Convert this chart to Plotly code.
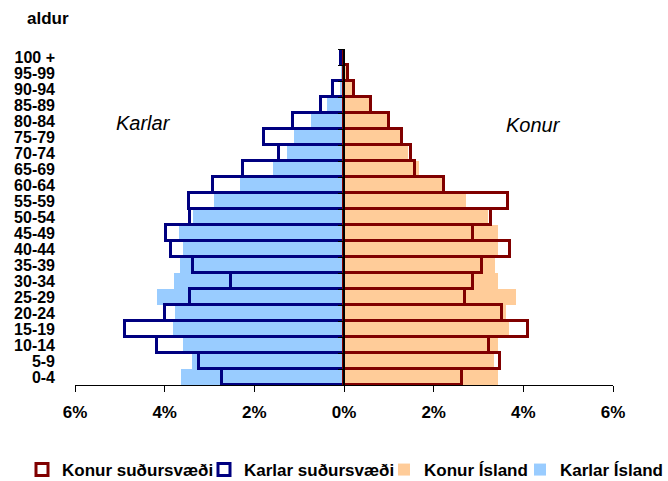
import plotly.graph_objects as go

# ---- data (youngest to oldest) ----
ages = ["0-4", "5-9", "10-14", "15-19", "20-24", "25-29", "30-34", "35-39",
        "40-44", "45-49", "50-54", "55-59", "60-64", "65-69", "70-74",
        "75-79", "80-84", "85-89", "90-94", "95-99", "100 +"]

karlar_sudur = [2.72, 3.24, 4.17, 4.88, 4.00, 3.43, 2.53, 3.36, 3.85, 3.97, 3.43,
                3.46, 2.92, 2.25, 1.45, 1.79, 1.13, 0.52, 0.24, 0.00, 0.06]
karlar_island = [3.63, 3.38, 3.59, 3.82, 3.78, 4.16, 3.79, 3.65, 3.59, 3.68, 3.37,
                 2.89, 2.31, 1.58, 1.28, 1.12, 0.73, 0.39, 0.10, 0.06, 0.03]
konur_sudur = [2.63, 3.49, 3.23, 4.10, 3.53, 2.69, 2.87, 3.08, 3.71, 2.87, 3.27,
               3.65, 2.24, 1.58, 1.49, 1.29, 1.01, 0.60, 0.22, 0.08, 0.00]
konur_island = [3.43, 3.34, 3.43, 3.69, 3.62, 3.83, 3.43, 3.36, 3.43, 3.43, 3.22,
                2.72, 2.20, 1.68, 1.42, 1.27, 0.97, 0.56, 0.19, 0.04, 0.01]

x_ticks = [-6, -4, -2, 0, 2, 4, 6]
x_ticktext = ["6%", "4%", "2%", "0%", "2%", "4%", "6%"]

FONT = "Liberation Sans, Arial, sans-serif"
C_KARLAR_IS = "#99CCFF"
C_KONUR_IS = "#FFCC99"
C_KARLAR_SU = "#000080"
C_KONUR_SU = "#800000"

ypos = list(range(len(ages)))

fig = go.Figure()

fig.add_trace(go.Bar(
    name="Karlar Ísland", y=ypos, x=[-v for v in karlar_island], orientation="h",
    marker=dict(color=C_KARLAR_IS, line=dict(width=0)), width=1,
    legend="legend4", hoverinfo="skip"))
fig.add_trace(go.Bar(
    name="Konur Ísland", y=ypos, x=konur_island, orientation="h",
    marker=dict(color=C_KONUR_IS, line=dict(width=0)), width=1,
    legend="legend3", hoverinfo="skip"))
fig.add_trace(go.Bar(
    name="Karlar suðursvæði", y=ypos, x=[-v for v in karlar_sudur], orientation="h",
    marker=dict(color="rgba(0,0,0,0)", line=dict(color=C_KARLAR_SU, width=3)), width=1,
    legend="legend2", hoverinfo="skip"))
fig.add_trace(go.Bar(
    name="Konur suðursvæði", y=ypos, x=konur_sudur, orientation="h",
    marker=dict(color="rgba(0,0,0,0)", line=dict(color=C_KONUR_SU, width=3)), width=1,
    legend="legend", hoverinfo="skip"))

# invisible helper trace so the centre axis (with boundary ticks) is drawn
fig.add_trace(go.Scatter(x=[0], y=[0], yaxis="y2", mode="markers",
                         marker=dict(opacity=0), showlegend=False, hoverinfo="skip"))

LEG_FONT = dict(family=FONT, size=17, weight="bold")
LEG_Y = -0.253


def leg(xp):
    return dict(orientation="h", x=xp, xanchor="left", y=LEG_Y, yanchor="middle",
                font=LEG_FONT, bgcolor="rgba(0,0,0,0)", borderwidth=0)


PLOT_L, PLOT_W = 75, 538

fig.update_layout(
    width=668, height=481,
    margin=dict(l=PLOT_L, r=55, t=49, b=96, autoexpand=False),
    paper_bgcolor="white", plot_bgcolor="white",
    barmode="overlay", bargap=0,
    font=dict(family=FONT, color="black"),
    showlegend=True,
    legend=leg((22 - PLOT_L) / PLOT_W),
    legend2=leg((204 - PLOT_L) / PLOT_W),
    legend3=leg((384 - PLOT_L) / PLOT_W),
    legend4=leg((520 - PLOT_L) / PLOT_W),
    xaxis=dict(range=[-6, 6], tickvals=x_ticks, ticktext=x_ticktext,
               showgrid=False, zeroline=False, showline=True, linecolor="black",
               linewidth=1, ticks="outside", ticklen=6, tickcolor="black",
               ticklabelstandoff=6, automargin=False,
               tickfont=dict(family=FONT, size=17, weight="bold")),
    yaxis=dict(range=[-0.5, len(ages) - 0.5], tickvals=ypos, ticktext=ages,
               showgrid=False, zeroline=False, showline=False, ticks="",
               ticklabelstandoff=19, automargin=False,
               tickfont=dict(family=FONT, size=16, weight="bold")),
    yaxis2=dict(overlaying="y", anchor="free", position=0.5, side="left",
                range=[-0.5, len(ages) - 0.5],
                tickvals=[i - 0.5 for i in range(len(ages) + 1)],
                showticklabels=False, ticks="outside", ticklen=5, tickcolor="black",
                showline=True, linecolor="black", linewidth=1.5,
                showgrid=False, zeroline=False, automargin=False),
    annotations=[
        dict(text="aldur", xref="paper", yref="paper", x=(25 - PLOT_L) / PLOT_W, y=1.09,
             xanchor="left", yanchor="middle", showarrow=False,
             font=dict(family=FONT, size=17, weight="bold")),
        dict(text="Karlar", xref="paper", yref="paper", x=0.127, y=0.78,
             xanchor="center", yanchor="middle", showarrow=False,
             font=dict(family=FONT, size=20, style="italic")),
        dict(text="Konur", xref="paper", yref="paper", x=0.853, y=0.774,
             xanchor="center", yanchor="middle", showarrow=False,
             font=dict(family=FONT, size=20, style="italic")),
    ],
)

fig.write_html("out.html",
               config={"displayModeBar": False},
               post_script="document.body.style.margin='0';document.body.style.overflow='hidden';")
